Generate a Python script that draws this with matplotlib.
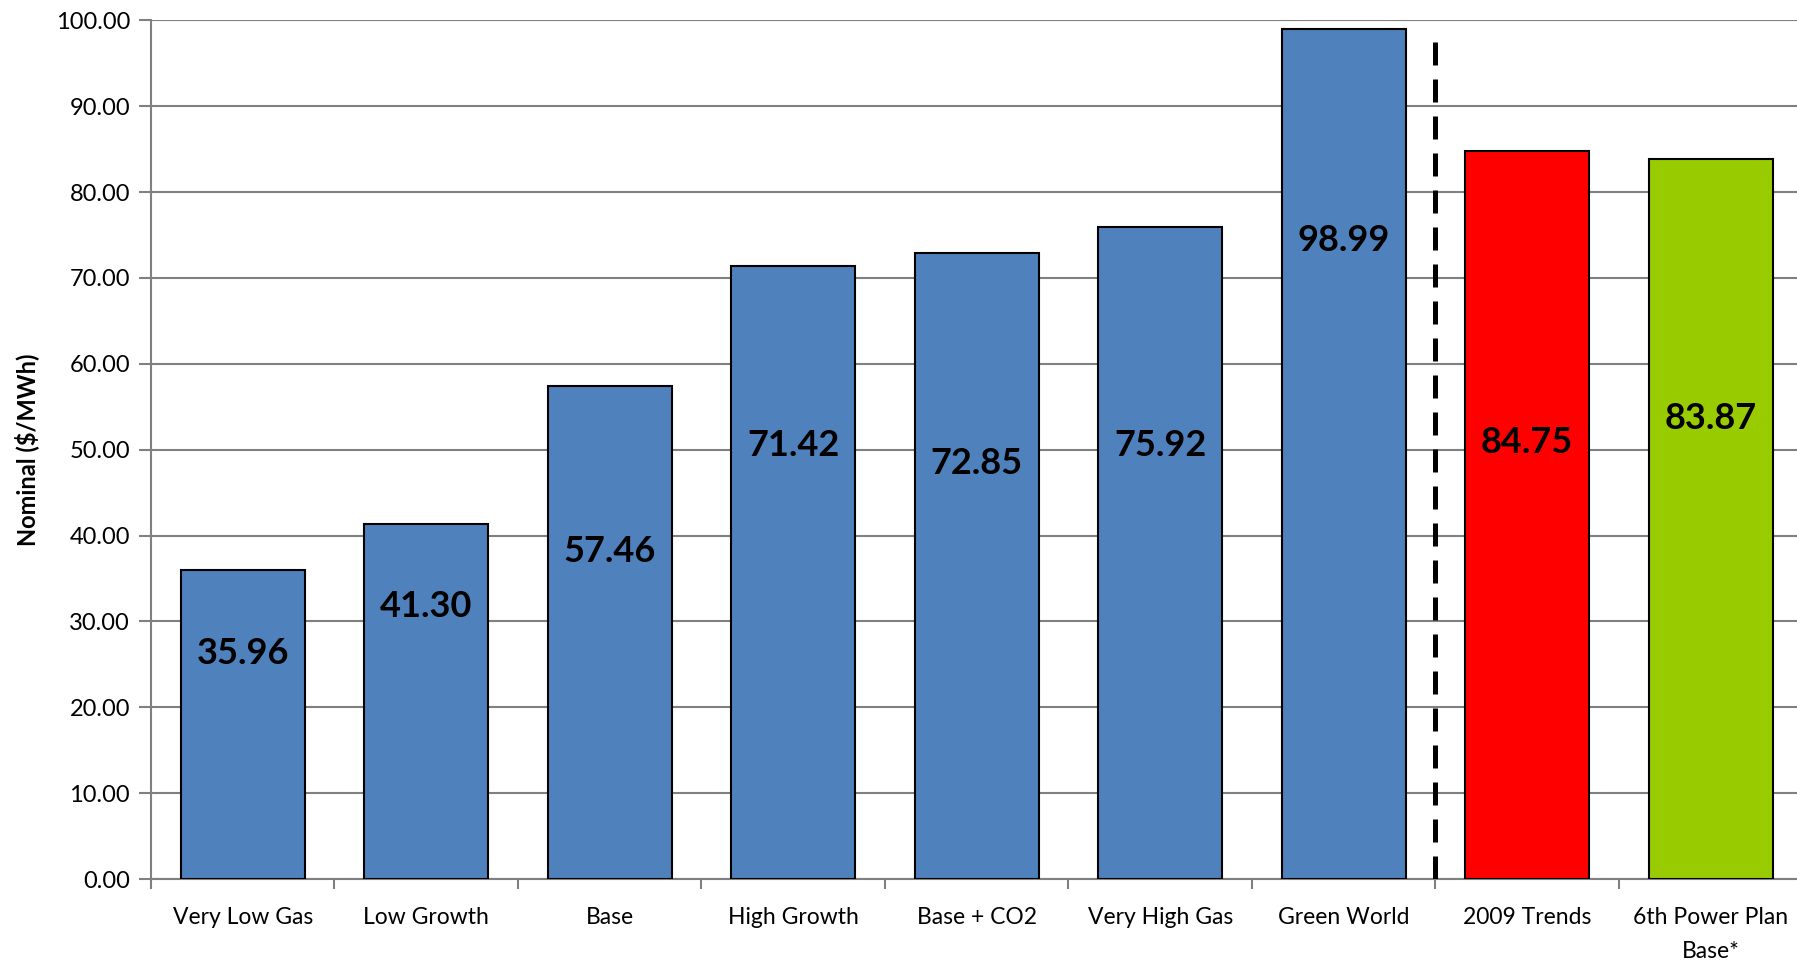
import numpy as np
import matplotlib.pyplot as plt

plt.rcParams['font.family'] = ['Lato', 'DejaVu Sans']

# chart data
categories = ["Very Low Gas", "Low Growth", "Base", "High Growth", "Base + CO2",
              "Very High Gas", "Green World", "2009 Trends", "6th Power Plan\nBase*"]
values = [35.96, 41.30, 57.46, 71.42, 72.85, 75.92, 98.99, 84.75, 83.87]
bar_colors = ["#4F81BD"] * 7 + ["#FF0000", "#99CC00"]

# where the value labels sit (data units)
label_y = [26.3, 31.8, 38.2, 50.5, 48.4, 50.5, 74.3, 50.8, 53.6]

fig = plt.figure(figsize=(17.97, 9.65), dpi=100)
ax = fig.add_axes([0.084, 0.089, 0.919, 0.890])

x = np.arange(len(categories))
ax.bar(x, values, width=0.675, color=bar_colors, edgecolor="black", linewidth=1.5, zorder=3)

for xi, v, ly in zip(x, values, label_y):
    ax.text(xi, ly, f"{v:.2f}", ha="center", va="center", fontsize=26,
            fontweight="bold", color="black", zorder=4)

# separator between scenarios and reference cases
ax.plot([6.5, 6.5], [0, 97.9], color="black", linewidth=3.6,
        linestyle=(0, (4.6, 2.8)), zorder=4, solid_capstyle="butt")

ax.set_xlim(-0.5, len(categories) - 0.5)
ax.set_ylim(0, 100)
ax.set_yticks(np.arange(0, 101, 10))
ax.set_yticklabels([f"{t:.2f}" for t in np.arange(0, 101, 10)])
ax.yaxis.grid(True, color="#808080", linewidth=1.5, zorder=0)
ax.set_axisbelow(True)

# category ticks at the boundaries, labels in the middle
ax.set_xticks(np.arange(-0.5, len(categories), 1.0))
ax.set_xticklabels([])
ax.set_xticks(x, minor=True)
ax.set_xticklabels(categories, minor=True, fontsize=16.5, linespacing=1.75)
ax.tick_params(axis="x", which="minor", length=0, pad=20)
ax.tick_params(axis="x", which="major", length=7, width=1.5, color="#808080")
ax.tick_params(axis="y", length=9, width=1.5, color="#808080", labelsize=17, pad=6)

for side in ["top", "right"]:
    ax.spines[side].set_visible(False)
for side in ["left", "bottom"]:
    ax.spines[side].set_color("#808080")
    ax.spines[side].set_linewidth(1.5)

ax.set_ylabel("Nominal ($/MWh)", fontsize=17, fontweight="bold", labelpad=10)
ax.yaxis.set_label_coords(-0.068, 0.5)

plt.savefig("out.png", dpi=100)
